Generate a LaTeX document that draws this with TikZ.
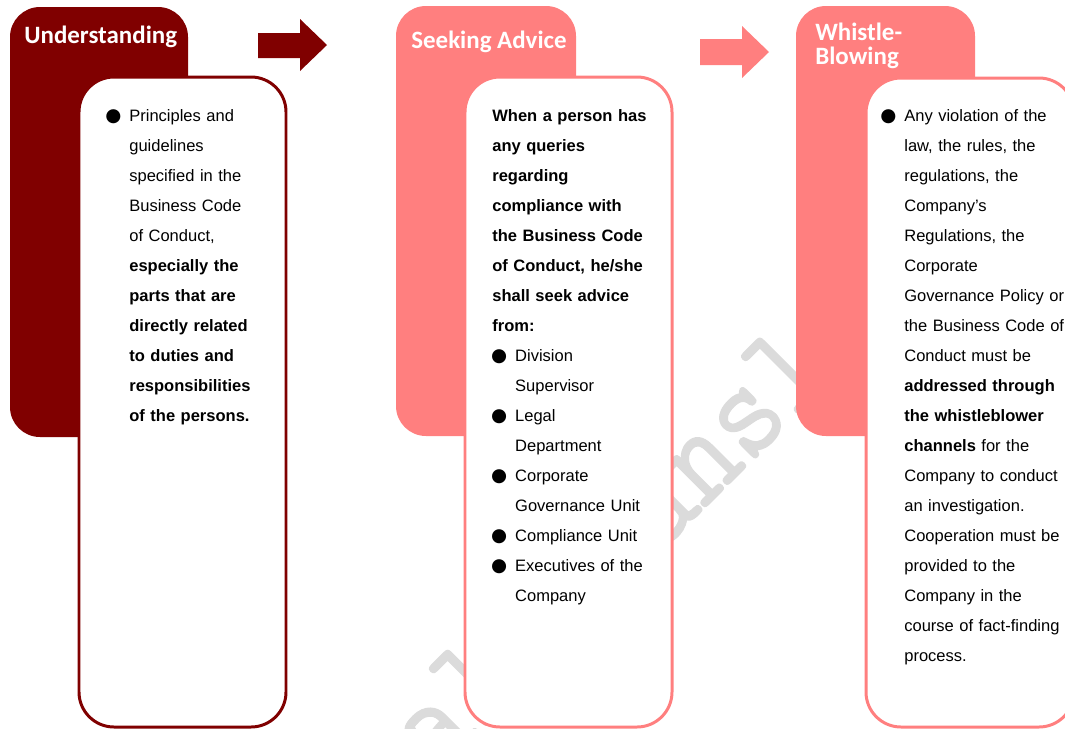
\documentclass[tikz,border=0pt]{standalone}
\usepackage{fontspec}
\setmainfont{Liberation Sans}
\newfontfamily\headfont{Carlito}
\newfontfamily\dotfont{DejaVu Sans}
\newfontfamily\stampfont{Latin Modern Mono}[FakeBold=1]
\usetikzlibrary{positioning}

\definecolor{maroon}{RGB}{128,0,0}
\definecolor{salmon}{RGB}{255,127,127}

% round bullet hanging in front of a line
\newcommand{\dotitem}{\hspace*{-9.1pt}\makebox[0pt][c]{\dotfont\fontsize{10.5}{10.5}\selectfont ●}\hspace*{9.1pt}}
\newcommand{\subpad}{\hspace*{13pt}}

\begin{document}
\begin{tikzpicture}[x=0.02cm,y=-0.02cm,
  tabshape/.style={rounded corners=0.6cm},
  card/.style={fill=white,line width=1.7pt,rounded corners=0.7cm},
  head/.style={font=\headfont\bfseries\fontsize{14.2}{13.1}\selectfont,text=white,anchor=base west,inner sep=0pt,align=left},
  body/.style={font=\fontsize{9.4}{17.1}\selectfont,text width=5cm,align=left,anchor=base west,inner sep=0pt},
  watermark/.style={font=\stampfont\fontsize{69.7}{69.7}\selectfont,text=black!14,rotate=45,yscale=1.1,transform shape,anchor=base,inner sep=0pt}]
\useasboundingbox (0,0) rectangle (1065,728);
\clip (0,0) rectangle (1065,728);

\node[watermark] (stamp) at (570,643) {Unofficial Translation};

% first column
\fill[maroon,tabshape] (10,7) rectangle (188,437);
\draw[maroon,card] (79,77) rectangle (286,727);
\fill[maroon] (258,33) -- (300,33) -- (300,19) -- (327,45) -- (300,71) -- (300,58) -- (258,58) -- cycle;

% second column
\fill[salmon,tabshape] (396,6) rectangle (576,436);
\draw[salmon,card] (465,77) rectangle (672,727);
\fill[salmon] (700,39) -- (742,39) -- (742,26) -- (769,52) -- (742,78) -- (742,65) -- (700,65) -- cycle;

% third column
\fill[salmon,tabshape] (796,6) rectangle (975,436);
\draw[salmon,card] (866,78) rectangle (1074,727);

\node[head] (understanding) at (24,43) {Understanding};
\node[head] (seeking) at (411,48) {Seeking Advice};
\node[head] (whistle) at (815,64) {Whistle-\\Blowing};

\node[body] (understandtext) at (129,121) {\dotitem Principles and\\
guidelines\\
specified in the\\
Business Code\\
of Conduct,\\
\textbf{especially the}\\
\textbf{parts that are}\\
\textbf{directly related}\\
\textbf{to duties and}\\
\textbf{responsibilities}\\
\textbf{of the persons.}};

\node[body] (seekingtext) at (492,121) {\textbf{When a person has}\\
\textbf{any queries}\\
\textbf{regarding}\\
\textbf{compliance with}\\
\textbf{the Business Code}\\
\textbf{of Conduct, he/she}\\
\textbf{shall seek advice}\\
\textbf{from:}\\
\subpad\dotitem Division\\
\subpad Supervisor\\
\subpad\dotitem Legal\\
\subpad Department\\
\subpad\dotitem Corporate\\
\subpad Governance Unit\\
\subpad\dotitem Compliance Unit\\
\subpad\dotitem Executives of the\\
\subpad Company};

\node[body] (whistletext) at (904,121) {\dotitem Any violation of the\\
law, the rules, the\\
regulations, the\\
Company’s\\
Regulations, the\\
Corporate\\
Governance Policy or\\
the Business Code of\\
Conduct must be\\
\textbf{addressed through}\\
\textbf{the whistleblower}\\
\textbf{channels} for the\\
Company to conduct\\
an investigation.\\
Cooperation must be\\
provided to the\\
Company in the\\
course of fact-finding\\
process.};
\end{tikzpicture}
\end{document}
